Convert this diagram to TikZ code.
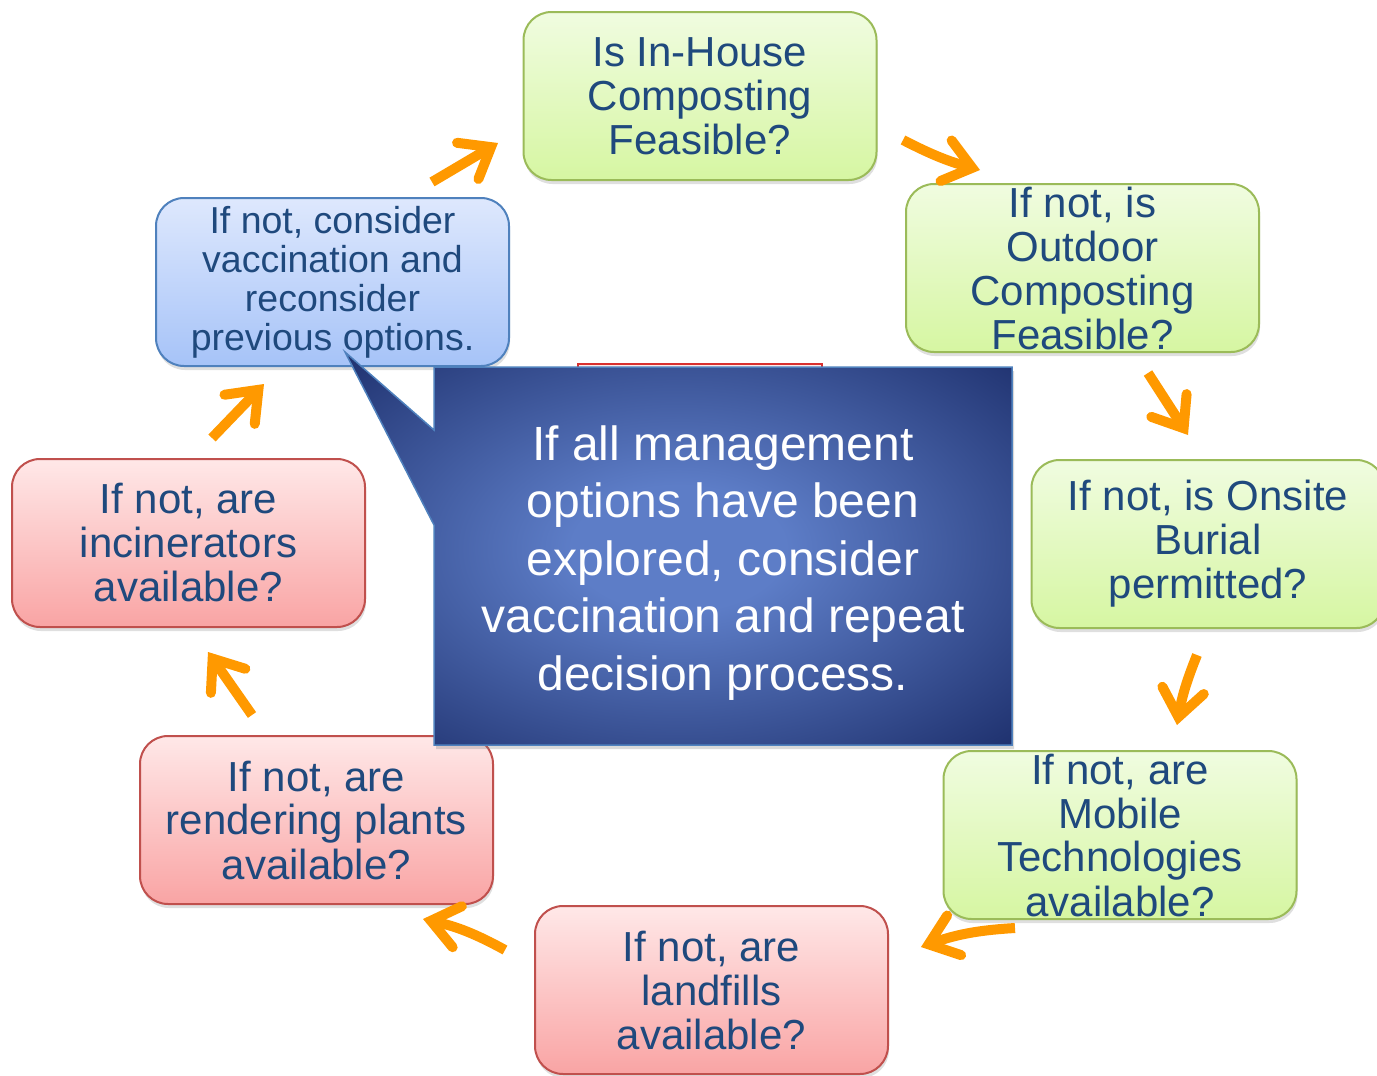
\documentclass[tikz,border=0pt]{standalone}
\usepackage{fontspec}
\setmainfont{Liberation Sans}
\usetikzlibrary{arrows.meta,shadows}
\definecolor{txt}{HTML}{1F497D}
\definecolor{grnT}{HTML}{F0FCE0}
\definecolor{grnB}{HTML}{D6F6A2}
\definecolor{grnD}{HTML}{9BBB59}
\definecolor{redT}{HTML}{FFE8E8}
\definecolor{redB}{HTML}{F9A4A4}
\definecolor{redD}{HTML}{C0504D}
\definecolor{bluT}{HTML}{DEE8FD}
\definecolor{bluB}{HTML}{A6C3F8}
\definecolor{bluD}{HTML}{4F81BD}
\definecolor{calIn}{HTML}{5D7DC7}
\definecolor{calOut}{HTML}{192A66}
\definecolor{arr}{HTML}{FF9900}
\pgfdeclareradialshading{calloutshade}{\pgfpoint{0bp}{0bp}}{color(0bp)=(calIn); color(8bp)=(calIn); color(38bp)=(calOut); color(50bp)=(calOut)}
\tikzset{
  box/.style={rounded corners=28pt, minimum width=353pt, minimum height=168pt,
    inner xsep=0pt, inner ysep=0pt, align=center, text=txt, line width=2pt,
    font=\fontsize{42}{44}\selectfont,
    drop shadow={opacity=0.25, shadow xshift=1pt, shadow yshift=-4pt}},
  gbox/.style={box, draw=grnD, top color=grnT, bottom color=grnB},
  rbox/.style={box, draw=redD, top color=redT, bottom color=redB},
  bbox/.style={box, draw=bluD, top color=bluT, bottom color=bluB,
    font=\fontsize{37.5}{39}\selectfont},
  tall/.style={inner ysep=-8pt},
  flow/.style={draw=arr, line width=10pt,
    -{Straight Barb[length=27pt, width=42pt, line cap=round, line join=miter]}},
  callout/.style={draw=bluD, line width=1.5pt, shading=calloutshade,
    drop shadow={opacity=0.3, shadow xshift=2pt, shadow yshift=-4pt}},
  caltext/.style={text=white, align=center, font=\fontsize{48}{57.5}\selectfont}
}
\begin{document}
\begin{tikzpicture}[x=1pt,y=-1pt]
\useasboundingbox (0,0) rectangle (1377,1076);
\clip (0,0) rectangle (1377,1076);

% boxes
\node[gbox] (inhouse) at (700,96) {Is In-House\\Composting\\Feasible?};
\node[gbox,tall] (outdoor) at (1082.5,268) {If not, is\\Outdoor\\Composting\\Feasible?};
\node[gbox] (burial) at (1208,544) {If not, is Onsite\\Burial\\permitted?};
\node[gbox,tall] (mobile) at (1120,835) {If not, are\\Mobile\\Technologies\\available?};
\node[rbox] (landfill) at (711.5,990) {If not, are\\landfills\\available?};
\node[rbox] (render) at (316.5,820) {If not, are\\rendering plants\\available?};
\node[rbox] (incin) at (188.5,543) {If not, are\\incinerators\\available?};
\node[bbox,tall] (vacc) at (332.5,282) {If not, consider\\vaccination and\\reconsider\\previous options.};

% hidden box behind the callout
\path[draw=redD!60!red, line width=2pt, top color=redT, bottom color=redB] (578,364) rectangle (822,520);

% callout
\path[callout] (434,367) -- (1012,367) -- (1012,745) -- (434,745) -- (434,525)
  -- (345,352) -- (434,430) -- cycle;
\node[caltext] (note) at (723,563) {If all management\\options have been\\explored, consider\\vaccination and repeat\\decision process.};

% arrows
\coordinate (a1s) at (432,182); \coordinate (a1e) at (498,143);
\coordinate (a2s) at (903,140); \coordinate (a2e) at (980,170);
\coordinate (a3s) at (1148,373); \coordinate (a3e) at (1188,435);
\coordinate (a4s) at (1197,655); \coordinate (a4e) at (1177,725);
\coordinate (a5s) at (1015,928); \coordinate (a5e) at (921,947);
\coordinate (a6s) at (505,950); \coordinate (a6e) at (423,919);
\coordinate (a7s) at (252,715); \coordinate (a7e) at (208,652);
\coordinate (a8s) at (212,438); \coordinate (a8e) at (264,384);
\draw[flow] (a1s) -- (a1e);
\draw[flow] (a2s) to[bend right=6] (a2e);
\draw[flow] (a3s) -- (a3e);
\draw[flow] (a4s) to[bend right=6] (a4e);
\draw[flow] (a5s) to[bend right=8] (a5e);
\draw[flow] (a6s) to[bend right=8] (a6e);
\draw[flow] (a7s) -- (a7e);
\draw[flow] (a8s) -- (a8e);
\end{tikzpicture}
\end{document}
